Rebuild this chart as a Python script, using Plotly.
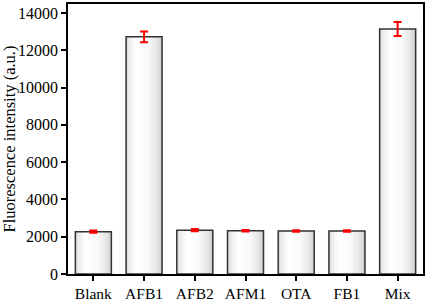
import plotly.graph_objects as go

categories = ["Blank", "AFB1", "AFB2", "AFM1", "OTA", "FB1", "Mix"]
values = [2270, 12720, 2350, 2320, 2310, 2310, 13140]
errors = [60, 290, 60, 40, 40, 40, 370]
y_ticks = [0, 2000, 4000, 6000, 8000, 10000, 12000, 14000]

BAR_W = 0.71
N = 18

def shade(t):
    # cylinder-like horizontal shading: gray edges, white near left-center
    pts = [(0.0, 215), (0.1, 238), (0.3, 255), (0.6, 250), (0.85, 230), (1.0, 205)]
    for (t0, c0), (t1, c1) in zip(pts[:-1], pts[1:]):
        if t0 <= t <= t1:
            c = c0 + (c1 - c0) * (t - t0) / (t1 - t0)
            c = int(round(c))
            return f"rgb({c},{c},{c})"
    return "rgb(220,220,220)"

fig = go.Figure()
slice_w = BAR_W / N
for i in range(N):
    t = (i + 0.5) / N
    fig.add_trace(go.Bar(
        x=categories, y=values,
        width=slice_w * 1.25,
        offset=-BAR_W / 2 + i * slice_w,
        marker=dict(color=shade(t), line=dict(width=0)),
        showlegend=False, hoverinfo="skip",
    ))

fig.add_trace(go.Bar(
    x=categories, y=values,
    width=BAR_W, offset=-BAR_W / 2,
    marker=dict(color="rgba(0,0,0,0)", line=dict(color="#333333", width=1.5)),
    error_y=dict(type="data", array=errors, color="#ff0000", thickness=2, width=4),
    showlegend=False,
))

fig.update_layout(
    width=427, height=302,
    margin=dict(l=68, r=4, t=4, b=28),
    barmode="overlay",
    plot_bgcolor="white", paper_bgcolor="white",
    font=dict(family="Liberation Serif", size=15, color="black"),
)
fig.update_xaxes(
    type="category", range=[-0.5, 6.5],
    showline=True, linecolor="black", linewidth=1.5, mirror=True,
    ticks="outside", ticklen=5, tickwidth=1.5, tickcolor="black",
    showgrid=False, tickfont=dict(size=15.5), automargin=False,
)
fig.update_yaxes(
    range=[0, 14480], tickvals=y_ticks, ticktext=[str(v) for v in y_ticks],
    showline=True, linecolor="black", linewidth=1.5, mirror=True,
    ticks="outside", ticklen=5, tickwidth=1.5, tickcolor="black",
    showgrid=False, zeroline=False, tickfont=dict(size=16), automargin=False,
    title=dict(text="Fluorescence intensity (a.u.)", font=dict(size=16.5), standoff=1),
)
fig.write_html(
    "out.html",
    config={"displayModeBar": False},
    post_script="document.body.style.margin='0';document.body.style.padding='0';",
)
